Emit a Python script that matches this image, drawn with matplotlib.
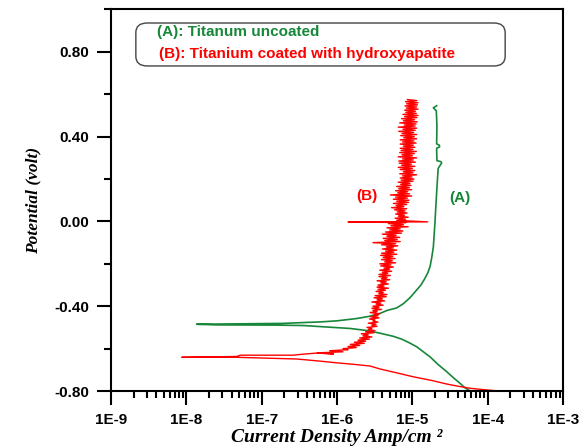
import matplotlib
matplotlib.use('Agg')
import matplotlib.pyplot as plt
import numpy as np
from matplotlib.patches import FancyBboxPatch
from matplotlib.ticker import LogLocator, NullFormatter

green = '#17873a'
red = '#ff0000'

# (A) titanium uncoated : cathodic branch -> Ecorr -> anodic / passive branch
a_current = [5.83e-5, 5.0e-5, 4.30e-5, 3.5e-5, 2.86e-5, 2.2e-5, 1.72e-5, 1.40e-5,
             1.15e-5, 9.3e-6, 7.3e-6, 5.6e-6, 3.6e-6, 2.4e-6, 1.5e-6, 1.0e-6,
             6.6e-7, 3.6e-7, 1.5e-7, 2.5e-8, 1.37e-8,
             1.9e-7, 3.6e-7, 6.0e-7, 9.9e-7, 1.83e-6, 2.74e-6, 3.72e-6, 4.6e-6,
             6.2e-6, 7.6e-6, 9.3e-6, 1.1e-5, 1.3e-5, 1.45e-5, 1.6e-5, 1.72e-5,
             1.81e-5, 1.9e-5, 1.95e-5, 2.0e-5, 2.05e-5, 2.11e-5, 2.2e-5, 2.45e-5,
             2.4e-5, 2.12e-5, 2.1e-5, 2.3e-5, 2.28e-5, 2.1e-5, 2.12e-5, 2.08e-5,
             1.9e-5, 2.1e-5]
a_potential = [-0.799, -0.785, -0.764, -0.737, -0.709, -0.675, -0.639, -0.615,
               -0.592, -0.574, -0.556, -0.542, -0.526, -0.514, -0.505, -0.501,
               -0.497, -0.491, -0.489, -0.488, -0.485,
               -0.481, -0.477, -0.474, -0.469, -0.458, -0.447, -0.434, -0.420,
               -0.408, -0.388, -0.360, -0.330, -0.300, -0.272, -0.243, -0.212,
               -0.17, -0.12, -0.06, 0.0, 0.07, 0.146, 0.25, 0.276,
               0.282, 0.287, 0.345, 0.352, 0.36, 0.366, 0.45, 0.522,
               0.536, 0.546]

# (B) coated with hydroxyapatite : smooth cathodic part and start of anodic part (A)
b_current = [1.32e-4, 8.5e-5, 5.83e-5, 4.0e-5, 2.86e-5, 1.8e-5, 1.03e-5, 6.5e-6,
             3.72e-6, 2.74e-6, 1.65e-6, 9.9e-7, 5.95e-7, 2.92e-7, 1.2e-7, 4.66e-8,
             8.7e-9, 4.7e-8, 5.2e-8, 2.6e-7, 3.6e-7, 5.4e-7]
b_potential = [-0.799, -0.793, -0.787, -0.777, -0.767, -0.750, -0.733, -0.716,
               -0.696, -0.682, -0.674, -0.667, -0.659, -0.649, -0.645, -0.641,
               -0.641, -0.637, -0.631, -0.631, -0.626, -0.621]

# (B) noisy anodic band, current in uA
b_band_potential = [
    -0.625, -0.62, -0.615, -0.61, -0.605,
    -0.600, -0.595, -0.590, -0.585, -0.580, -0.575, -0.570, -0.565, -0.560, -0.555,
    -0.550, -0.545, -0.540, -0.535, -0.530, -0.525, -0.520, -0.515, -0.510, -0.505,
    -0.500, -0.495, -0.490, -0.485, -0.480, -0.475, -0.470, -0.465, -0.460, -0.455,
    -0.450, -0.445, -0.440, -0.435, -0.430, -0.425, -0.420, -0.415, -0.410, -0.405,
    -0.400, -0.395, -0.390, -0.385, -0.380, -0.375, -0.370, -0.365, -0.360, -0.355,
    -0.350, -0.345, -0.340, -0.335, -0.330, -0.325, -0.320, -0.315, -0.310, -0.305,
    -0.300, -0.295, -0.290, -0.285, -0.280, -0.275, -0.270, -0.265, -0.260, -0.255,
    -0.250, -0.245, -0.240, -0.235, -0.230, -0.225, -0.220, -0.215, -0.210, -0.205,
    -0.200, -0.195, -0.190, -0.185, -0.180, -0.175, -0.170, -0.165, -0.160, -0.155,
    -0.150, -0.145, -0.140, -0.135, -0.130, -0.125, -0.120, -0.115, -0.110, -0.105,
    -0.100, -0.095, -0.090, -0.085, -0.080, -0.075, -0.070, -0.065, -0.060, -0.055,
    -0.050, -0.045, -0.040, -0.035, -0.030, -0.025, -0.020, -0.015, -0.010, -0.005,
    -0.003, -0.002,
    0.005, 0.010, 0.015, 0.020, 0.025, 0.030, 0.035, 0.040, 0.045,
    0.050, 0.055, 0.060, 0.065, 0.070, 0.075, 0.080, 0.085, 0.090, 0.095,
    0.100, 0.105, 0.110, 0.115, 0.120, 0.125, 0.130, 0.135, 0.140, 0.145,
    0.150, 0.155, 0.160, 0.165, 0.170, 0.175, 0.180, 0.185, 0.190, 0.195,
    0.200, 0.205, 0.210, 0.215, 0.220, 0.225, 0.230, 0.235, 0.240, 0.245,
    0.250, 0.255, 0.260, 0.265, 0.270, 0.275, 0.280, 0.285, 0.290, 0.295,
    0.300, 0.305, 0.310, 0.315, 0.320, 0.325, 0.330, 0.335, 0.340, 0.345,
    0.350, 0.355, 0.360, 0.365, 0.370, 0.375, 0.380, 0.385, 0.390, 0.395,
    0.400, 0.405, 0.410, 0.415, 0.420, 0.425, 0.430, 0.435, 0.440, 0.445,
    0.450, 0.455, 0.460, 0.465, 0.470, 0.475, 0.480, 0.485, 0.490, 0.495,
    0.500, 0.505, 0.510, 0.515, 0.520, 0.525, 0.530, 0.535, 0.540, 0.545,
    0.550, 0.555, 0.560, 0.565, 0.570, 0.575]
b_band_ua = [
    0.9, 0.55, 1.2, 0.8, 1.4,
    1.2, 1.8, 1.4, 2.0, 1.5, 2.3, 1.7, 2.4, 1.9, 2.7,
    2.0, 2.9, 2.2, 2.6, 2.1, 3.1, 2.4, 3.2, 2.6, 2.9,
    2.5, 3.4, 2.9, 3.3, 2.6, 3.5, 3.0, 3.2, 2.7, 3.6,
    2.8, 3.5, 3.1, 3.7, 2.75, 3.4, 3.0, 3.9, 2.9, 3.6,
    3.0, 4.1, 3.3, 3.8, 2.9, 4.3, 3.4, 4.0, 3.1, 4.5,
    3.2, 4.6, 3.6, 4.1, 3.3, 4.4, 3.5, 4.8, 3.4, 4.2,
    3.5, 4.8, 3.8, 4.5, 3.4, 5.0, 3.9, 4.6, 3.6, 5.1,
    3.6, 4.7, 4.0, 5.3, 3.7, 5.0, 4.2, 5.6, 3.8, 5.2,
    3.7, 6.0, 4.3, 5.4, 3.9, 5.9, 4.1, 5.5, 3.8, 6.2,
    3.9, 5.7, 4.4, 6.2, 4.0, 5.6, 4.5, 6.4, 3.9, 6.0,
    3.0, 6.9, 4.3, 6.3, 4.1, 6.8, 4.6, 6.1, 4.0, 7.2,
    4.4, 7.5, 5.0, 6.9, 4.6, 8.8, 5.2, 7.6, 4.8, 8.2,
    1.4, 16.0,
    6.2, 8.1, 5.9, 8.8, 6.5, 7.9, 6.0, 8.5, 6.3,
    8.0, 5.8, 8.4, 5.3, 7.7, 6.1, 8.4, 5.6, 8.9, 6.2,
    9.0, 5.6, 8.6, 6.0, 9.8, 5.1, 9.2, 6.4, 8.7, 6.0,
    9.8, 6.6, 9.1, 6.2, 9.6, 7.0, 9.3, 6.5, 10.2, 7.1,
    10.5, 6.9, 9.9, 7.4, 11.4, 6.8, 10.2, 7.6, 10.8, 6.9,
    10.0, 6.5, 10.8, 7.2, 9.7, 6.7, 11.0, 6.6, 10.3, 7.4,
    11.4, 6.5, 10.0, 7.3, 10.6, 6.8, 11.3, 7.1, 10.2, 6.9,
    10.8, 7.6, 10.3, 6.9, 11.2, 7.4, 10.5, 6.9, 11.4, 7.7,
    10.6, 7.0, 11.4, 7.3, 10.4, 6.6, 10.9, 7.5, 11.4, 6.5,
    10.9, 7.8, 11.2, 6.8, 11.6, 7.6, 10.7, 7.2, 11.5, 7.9,
    11.9, 7.5, 11.3, 8.2, 11.0, 7.9, 11.9, 8.3, 11.4, 8.0,
    11.7, 8.4, 11.9, 8.1, 11.5, 8.6]

x_ticks = [1e-9, 1e-8, 1e-7, 1e-6, 1e-5, 1e-4, 1e-3]
x_tick_labels = ['1E-9', '1E-8', '1E-7', '1E-6', '1E-5', '1E-4', '1E-3']
y_ticks = [-0.8, -0.4, 0.0, 0.4, 0.8]
y_tick_labels = ['-0.80', '-0.40', '0.00', '0.40', '0.80']
y_minor = [-0.6, -0.2, 0.2, 0.6, 1.0]

fig = plt.figure(figsize=(5.79, 4.48), dpi=100)
ax = fig.add_axes([0.1917, 0.1272, 0.7807, 0.8516])

ax.plot(a_current, a_potential, color=green, lw=1.2)
b_all_i = b_current + [v * 1e-6 for v in b_band_ua]
b_all_v = b_potential + b_band_potential
ax.plot(b_all_i, b_all_v, color=red, lw=1.0)

ax.set_xscale('log')
ax.set_xlim(1e-9, 1e-3)
ax.set_ylim(-0.8, 1.0)

ax.set_xticks(x_ticks)
ax.set_xticklabels(x_tick_labels)
ax.xaxis.set_minor_locator(LogLocator(base=10, subs=np.arange(2, 10)))
ax.xaxis.set_minor_formatter(NullFormatter())
ax.set_yticks(y_ticks)
ax.set_yticklabels(y_tick_labels)
ax.set_yticks(y_minor, minor=True)

ax.tick_params(which='both', direction='out', width=1.5, colors='black')
ax.tick_params(which='major', length=10, pad=6)
ax.tick_params(which='minor', length=5)
for lab in ax.get_xticklabels() + ax.get_yticklabels():
    lab.set_fontfamily('Liberation Sans')
    lab.set_fontweight('bold')
    lab.set_fontsize(11)
for s in ax.spines.values():
    s.set_linewidth(1.5)

ax.set_xlabel('Current Density Amp/cm \u00b2', family='Liberation Serif',
              style='italic', weight='bold', fontsize=14, labelpad=1)
ax.set_ylabel('Potential (volt)', family='Liberation Serif',
              style='italic', weight='bold', fontsize=12.5, labelpad=9)

# legend box
box = FancyBboxPatch((0.055, 0.852), 0.817, 0.1126, transform=ax.transAxes,
                     boxstyle='round,pad=0,rounding_size=0.025',
                     facecolor='white', edgecolor='#444444', lw=1.0)
ax.add_patch(box)
ax.text(0.102, 0.941, '(A): Titanum uncoated', transform=ax.transAxes,
        color=green, family='Liberation Sans', weight='bold', fontsize=11,
        va='center', ha='left')
ax.text(0.106, 0.883, '(B): Titanium coated with hydroxyapatite', transform=ax.transAxes,
        color=red, family='Liberation Sans', weight='bold', fontsize=11,
        va='center', ha='left')

ax.text(2.5e-6, 0.118, '(B)', color=red, family='Liberation Sans',
        weight='bold', fontsize=11, ha='center', va='center')
ax.text(4.3e-5, 0.113, '(A)', color=green, family='Liberation Sans',
        weight='bold', fontsize=11, ha='center', va='center')

fig.savefig('out.png', dpi=100)
